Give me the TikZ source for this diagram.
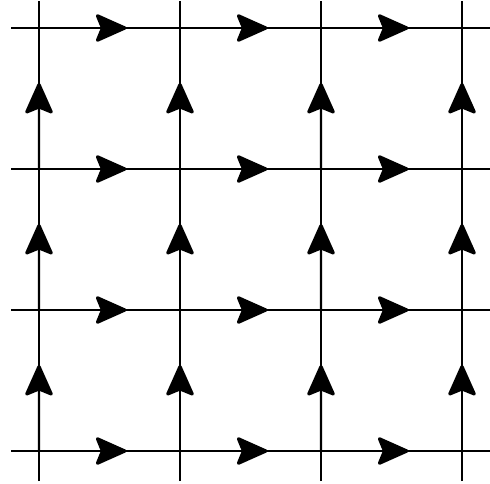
\documentclass[tikz,border=0pt]{standalone}
\usetikzlibrary{arrows.meta,calc}

\begin{document}
\begin{tikzpicture}[x=0.5pt, y=-0.5pt]
        \tikzset{gridline/.style={line width=1.2pt, black},
                 flow/.style={gridline, -{Stealth[length=17pt, width=15pt, inset=3pt, round, line width=1.6pt]}}}

        \useasboundingbox (0,0) rectangle (490,483);

        % lattice points
        \foreach \i in {0,...,3}
          \foreach \j in {0,...,3}
            \coordinate (p-\i-\j) at (39+141*\i, 28+141*\j);

        % ends of the lines
        \foreach \j in {0,...,3} {
          \coordinate (w-\j) at (11, 28+141*\j);
          \coordinate (e-\j) at (490, 28+141*\j);
          \coordinate (n-\j) at (39+141*\j, 1);
          \coordinate (s-\j) at (39+141*\j, 481);
        }

        \foreach \j in {0,...,3} {
          \draw[gridline] (w-\j) -- (e-\j);
          \draw[gridline] (s-\j) -- (n-\j);
        }

        % arrows to the right
        \foreach \i/\k in {0/1,1/2,2/3}
          \foreach \j in {0,...,3}
            \draw[flow] (p-\i-\j) -- ($(p-\i-\j)!0.62!(p-\k-\j)$);

        % arrows upward
        \foreach \j/\k in {1/0,2/1,3/2}
          \foreach \i in {0,...,3}
            \draw[flow] (p-\i-\j) -- ($(p-\i-\j)!0.61!(p-\i-\k)$);
\end{tikzpicture}
\end{document}
